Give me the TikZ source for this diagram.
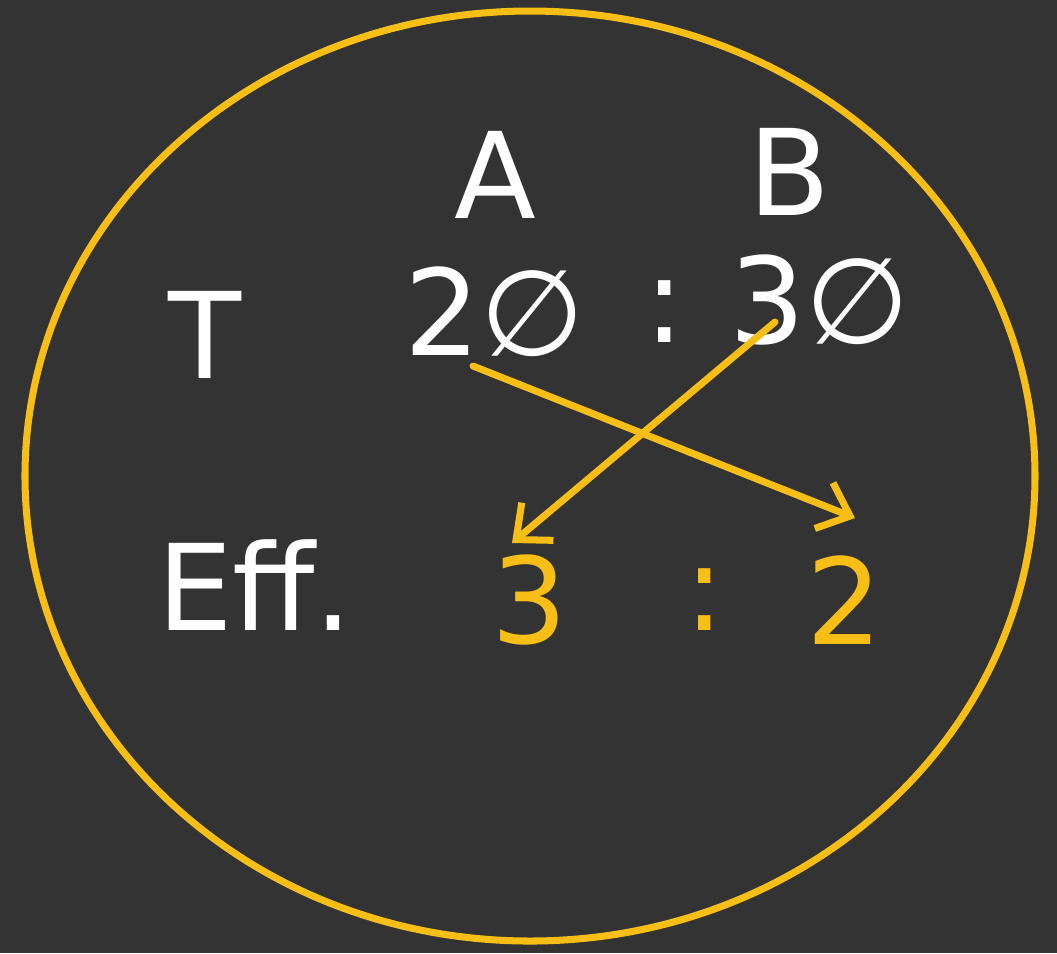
\documentclass[tikz,border=0pt]{standalone}
\usepackage{fontspec}
\setmainfont{DejaVu Sans}
\usetikzlibrary{arrows.meta}
\definecolor{bg}{HTML}{333333}
\definecolor{gold}{HTML}{F7BE16}
\tikzset{
  hw/.style={text=white, font=\fontsize{34}{38}\selectfont, inner sep=0pt},
  hwy/.style={text=gold, font=\fontsize{34}{38}\selectfont, inner sep=0pt},
  link/.style={draw=gold, line width=2pt, line cap=round, -{Straight Barb[length=8pt,width=14pt,line width=2pt]}}
}
\begin{document}
\begin{tikzpicture}[x=0.01cm,y=-0.01cm]
\fill[bg] (0,0) rectangle (1057,953);
\useasboundingbox (0,0) rectangle (1057,953);
\draw[gold, line width=2pt] (530,476) ellipse [x radius=505, y radius=465];
\node[hw] (A) at (495,175) {A};
\node[hw] (B) at (790,172) {B};
\node[hw] (T) at (205,335) {T};
\node[hw] (a20) at (495,312) {2∅};
\node[hw] (c1) at (665,312) {:};
\node[hw] (b30) at (820,300) {3∅};
\node[hw] (eff) at (255,585) {Eff.};
\node[hwy] (y3) at (530,600) {3};
\node[hwy] (c2) at (705,600) {:};
\node[hwy] (y2) at (845,600) {2};
\coordinate (s1) at (775,322);
\coordinate (e1) at (512,543);
\coordinate (s2) at (473,366);
\coordinate (e2) at (855,518);
\draw[link] (s1) -- (e1);
\draw[link] (s2) -- (e2);
\end{tikzpicture}
\end{document}
